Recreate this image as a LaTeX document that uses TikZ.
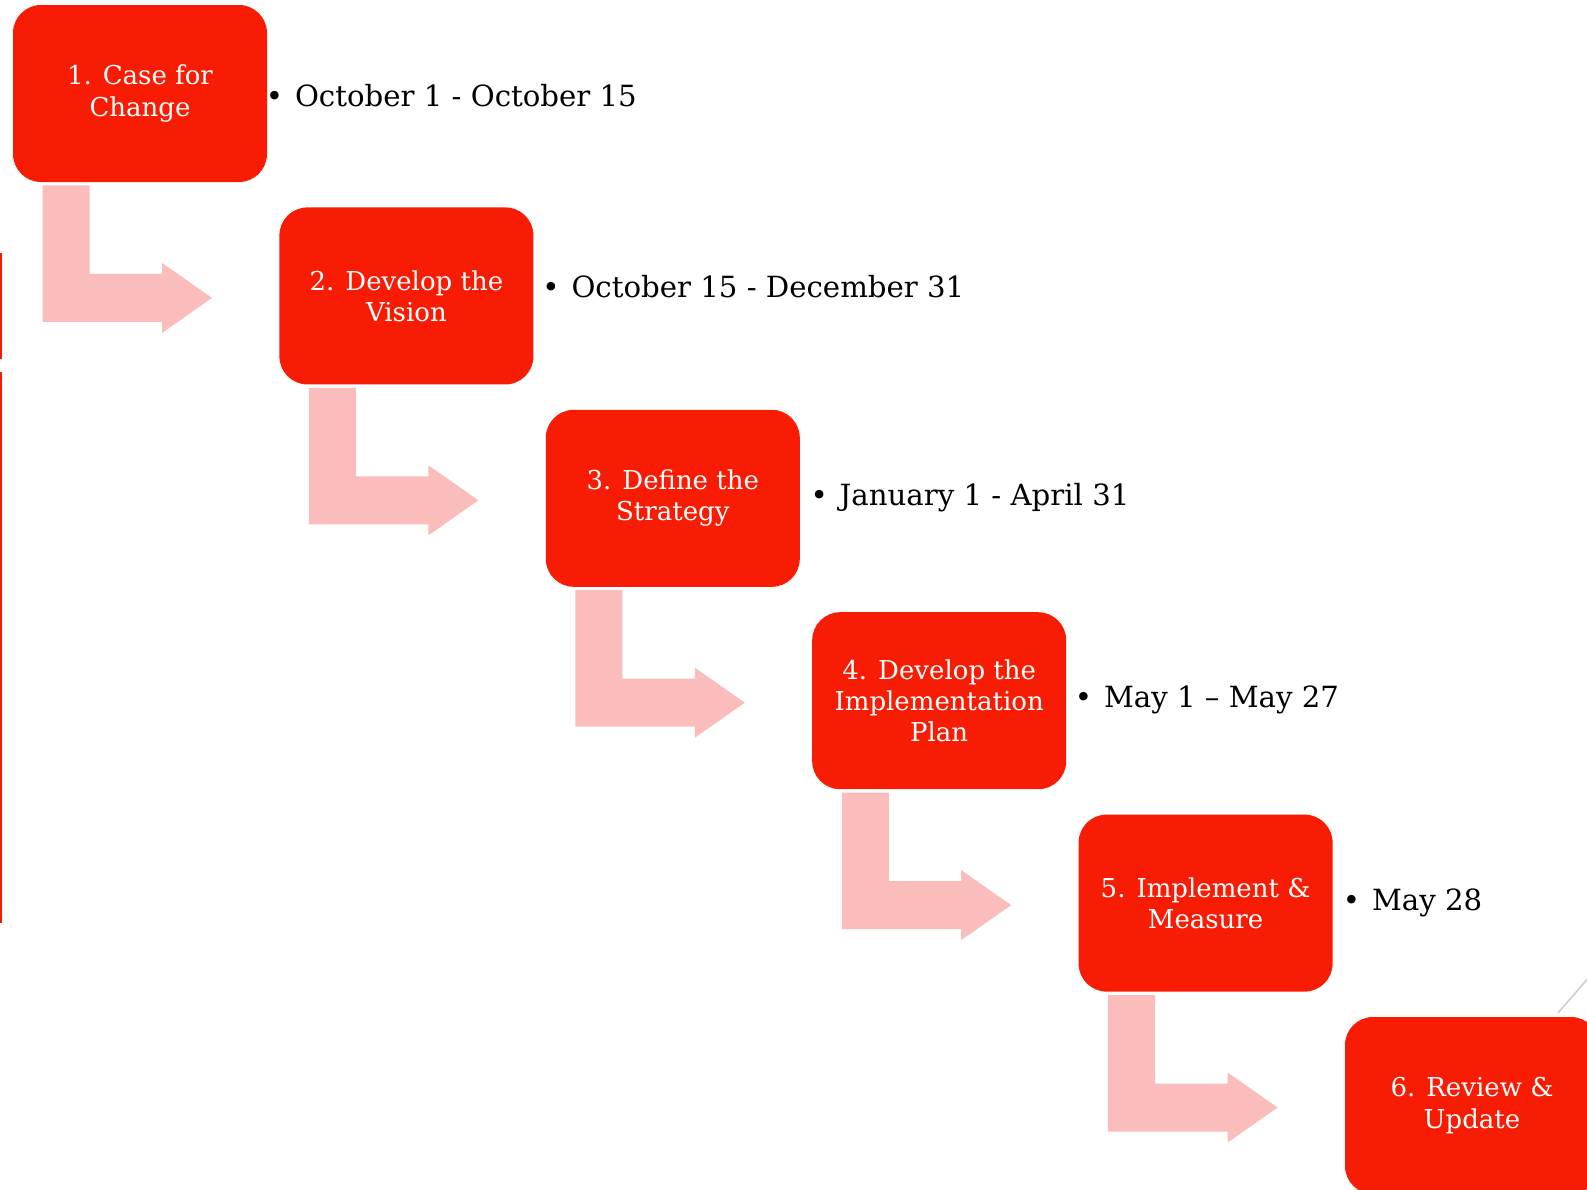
\documentclass[tikz,border=0pt]{standalone}
\usepackage{fontspec}
\setmainfont{DejaVu Serif}
\usetikzlibrary{calc}

\definecolor{stepred}{RGB}{248,28,4}
\definecolor{arrowpink}{RGB}{251,188,188}
\definecolor{edgegray}{RGB}{205,205,205}

\tikzset{
  phase/.style={fill=stepred, rounded corners=14pt, minimum width=127pt, minimum height=88.5pt,
    inner sep=0pt, text=white, align=center, font=\fontsize{13}{15.6}\selectfont},
  datetext/.style={anchor=west, inner sep=0pt, font=\fontsize{14.6}{16}\selectfont},
  bentfill/.style={fill=arrowpink},
}

% pink bent arrow from one phase box to the next
\newcommand{\bentarrow}[2]{%
  \fill[bentfill] ($(#1.south west)+(30,3)$) coordinate (s#1) -- ++(47,0)
    |- ($(#2.west)+(-117,-22)$) -- ++(0,-11) -- ($(#2.west)+(-67,2)$)
    -- ++(-50,35) -- ++(0,-11) -| (s#1) -- cycle;}
\newcommand{\bul}{•\hspace{6pt}}

\begin{document}
\begin{tikzpicture}[x=0.5pt,y=0.5pt,yscale=-1,xscale=1]
\useasboundingbox (0,0) rectangle (1587,1190);
\clip (0,0) rectangle (1587,1190);

%Shape: edge marks
\draw[stepred, line width=1.2pt] (1,253) -- (1,359) (1,372) -- (1,923);
\draw[edgegray, line width=0.8pt] (1590,976) -- (1558,1013);

% Phase boxes
\node[phase] (b1) at (140,93.5) {1. Case for\\Change};
\node[phase] (b2) at (406.4,295.9) {2. Develop the\\Vision};
\node[phase] (b3) at (672.8,498.3) {3. Define the\\Strategy};
\node[phase] (b4) at (939.2,700.7) {4. Develop the\\Implementation\\Plan};
\node[phase] (b5) at (1205.6,903.1) {5. Implement \&\\Measure};
\node[phase] (b6) at (1472,1105.5) {6. Review \&\\Update};

% Bent arrows
\bentarrow{b1}{b2}
\bentarrow{b2}{b3}
\bentarrow{b3}{b4}
\bentarrow{b4}{b5}
\bentarrow{b5}{b6}

% Text Node
\node[datetext] (d1) at (265.4,96) {\bul October 1 - October 15};
% Text Node
\node[datetext] (d2) at (541.9,286.4) {\bul October 15 - December 31};
% Text Node
\node[datetext] (d3) at (810.1,498) {\bul January 1 - April 31};
% Text Node
\node[datetext] (d4) at (1074.4,700) {\bul May 1 – May 27};
% Text Node
\node[datetext] (d5) at (1342.4,903) {\bul May 28};

\end{tikzpicture}
\end{document}
